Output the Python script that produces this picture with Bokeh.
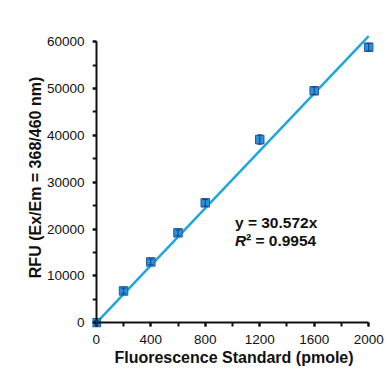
from bokeh.plotting import figure
from bokeh.models import Range1d, SingleIntervalTicker, ColumnDataSource, Whisker, Label, TeeHead, LinearAxis
from bokeh.embed import file_html
from bokeh.resources import INLINE

standard_pmole = [0, 200, 400, 600, 800, 1200, 1600, 2000]
rfu = [0, 6800, 13000, 19200, 25600, 39100, 49500, 58800]
rfu_err = [500, 600, 600, 600, 700, 1000, 800, 800]
slope = 30.572
r_squared = 0.9954
fit_x = [0, 2000]
fit_y = [slope * v for v in fit_x]

FONT = "Liberation Sans"
INK = "#111111"

src = ColumnDataSource(dict(
    x=standard_pmole, y=rfu,
    upper=[a + b for a, b in zip(rfu, rfu_err)],
    lower=[a - b for a, b in zip(rfu, rfu_err)],
))

p = figure(width=391, height=377, output_backend="svg", toolbar_location=None,
           x_range=Range1d(-28, 2050), y_range=Range1d(-1000, 63000),
           min_border_left=92, min_border_right=16, min_border_top=27, min_border_bottom=50)
p.outline_line_color = None
p.xgrid.visible = False
p.ygrid.visible = False
p.background_fill_color = "white"
p.border_fill_color = "white"

# label-only axes at the frame edges
p.xaxis.ticker = SingleIntervalTicker(interval=400)
p.yaxis.ticker = SingleIntervalTicker(interval=10000)
p.xaxis.bounds = (0, 2000)
p.yaxis.bounds = (0, 60000)
for ax in (p.xaxis, p.yaxis):
    ax.axis_line_color = None
    ax.major_tick_line_color = None
    ax.minor_tick_line_color = None
    ax.major_tick_in = 0
    ax.major_tick_out = 0
    ax.minor_tick_in = 0
    ax.minor_tick_out = 0
    ax.major_label_text_font = FONT
    ax.major_label_text_font_size = "13.5px"
    ax.major_label_text_color = INK
    ax.axis_label_text_font = FONT
    ax.axis_label_text_font_size = "16px"
    ax.axis_label_text_font_style = "bold"
    ax.axis_label_text_color = INK

p.xaxis.axis_label = "Fluorescence Standard (pmole)"
p.yaxis.axis_label = "RFU (Ex/Em = 368/460 nm)"
p.xaxis.major_label_standoff = 7
p.yaxis.major_label_standoff = 8
p.xaxis.axis_label_standoff = 2
p.yaxis.axis_label_standoff = 0

# axis lines and ticks crossing at the origin
def line_axis(interval, bounds):
    a = LinearAxis(fixed_location=0, bounds=bounds,
                   ticker=SingleIntervalTicker(interval=interval, num_minor_ticks=2))
    a.axis_line_width = 2
    a.axis_line_color = INK
    a.major_tick_line_color = INK
    a.minor_tick_line_color = INK
    a.major_tick_line_width = 2
    a.minor_tick_line_width = 2
    a.major_tick_in = 0
    a.major_tick_out = 4
    a.minor_tick_in = 0
    a.minor_tick_out = 4
    a.major_label_text_font_size = "0px"
    a.major_label_text_alpha = 0
    a.major_label_standoff = 0
    return a

p.add_layout(line_axis(400, (0, 2000)), "below")
p.add_layout(line_axis(10000, (0, 60000)), "left")

p.line(fit_x, fit_y, line_color="#1ea7dd", line_width=2.5)
p.scatter("x", "y", source=src, marker="square", size=8.5,
          fill_color="#2b92da", line_color="#1a5ca6", line_width=1)
w = Whisker(source=src, base="x", upper="upper", lower="lower",
            line_color="#173f7a", line_width=1,
            upper_head=TeeHead(size=5, line_color="#173f7a", line_width=1),
            lower_head=TeeHead(size=5, line_color="#173f7a", line_width=1))
w.level = "overlay"
p.add_layout(w)

eq_x = 1018
p.add_layout(Label(x=eq_x, y=21400, text="y = %.3fx" % slope, text_font=FONT,
                   text_font_size="15.5px", text_font_style="bold",
                   text_baseline="middle", text_color=INK))
p.add_layout(Label(x=eq_x, y=17600, text="R", text_font=FONT,
                   text_font_size="15.5px", text_font_style="bold italic",
                   text_baseline="middle", text_color=INK))
p.add_layout(Label(x=eq_x, y=17600, x_offset=11, text="\u00b2 = %.4f" % r_squared,
                   text_font=FONT, text_font_size="15.5px", text_font_style="bold",
                   text_baseline="middle", text_color=INK))

open("out.html", "w").write(file_html(p, INLINE))
